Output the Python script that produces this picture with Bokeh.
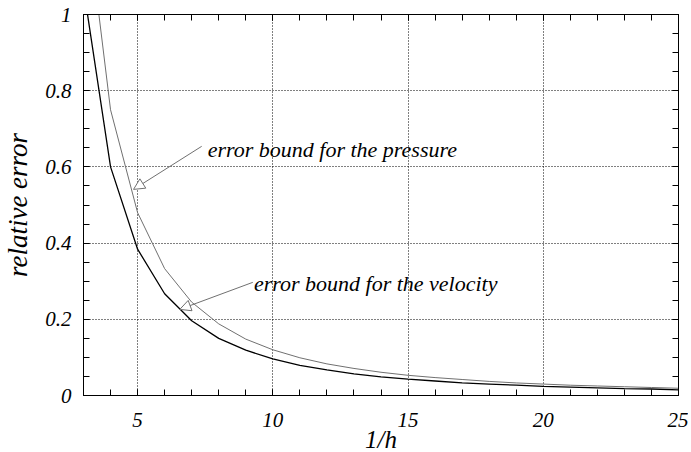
from bokeh.plotting import figure
from bokeh.models import (LinearAxis, FixedTicker, Range1d, Arrow, NormalHead, Label,
                          CustomJSTickFormatter)
from bokeh.embed import file_html
from bokeh.resources import INLINE

# ---- data ----
inv_h = [3, 4, 5, 6, 7, 8, 9, 10, 11, 12, 13, 14, 15, 16, 17, 18, 19, 20, 21, 22, 23, 24, 25]
err_velocity = [1.07, 0.60, 0.384, 0.267, 0.196, 0.150, 0.119, 0.096, 0.079, 0.067, 0.057, 0.049,
                0.043, 0.038, 0.033, 0.030, 0.027, 0.024, 0.022, 0.020, 0.018, 0.017, 0.015]
err_pressure = [1.33, 0.75, 0.48, 0.333, 0.245, 0.188, 0.148, 0.120, 0.099, 0.083, 0.071, 0.061,
                0.053, 0.047, 0.042, 0.037, 0.033, 0.030, 0.027, 0.025, 0.023, 0.021, 0.019]
x_ticks = [5, 10, 15, 20, 25]
x_minor = list(range(3, 26))
y_ticks = [0, 0.2, 0.4, 0.6, 0.8, 1]
y_minor = [round(i * 0.05, 2) for i in range(0, 21)]
x_title = "1/h"
y_title = "relative error"
label_pressure = "error bound for the pressure"
label_velocity = "error bound for the velocity"

FONT = "Liberation Serif"

p = figure(frame_width=595, frame_height=381, output_backend="svg", toolbar_location=None,
           x_range=Range1d(3, 25), y_range=Range1d(0, 1),
           min_border_left=78, min_border_right=10, min_border_top=14, min_border_bottom=0,
           x_axis_label=x_title, y_axis_label=y_title)
p.background_fill_color = "white"
p.border_fill_color = "white"
p.outline_line_color = "black"
p.outline_line_width = 1

p.line(inv_h, err_pressure, line_color="#707070", line_width=1)
p.line(inv_h, err_velocity, line_color="black", line_width=1.3)

def style_axis(ax, ticks, minor):
    ax.ticker = FixedTicker(ticks=ticks, minor_ticks=minor)
    ax.major_tick_in = 6
    ax.major_tick_out = 0
    ax.minor_tick_in = 6
    ax.minor_tick_out = 0
    ax.axis_line_color = "black"
    ax.major_tick_line_color = "black"
    ax.minor_tick_line_color = "black"
    ax.major_label_text_font = FONT
    ax.major_label_text_font_style = "italic"
    ax.major_label_text_font_size = "21px"
    ax.major_label_text_color = "black"
    ax.axis_label_text_font = FONT
    ax.axis_label_text_font_style = "italic"
    ax.axis_label_text_color = "black"

xa = p.xaxis[0]
ya = p.yaxis[0]
style_axis(xa, x_ticks, x_minor)
style_axis(ya, y_ticks, y_minor)
xa.major_label_standoff = 17
xa.axis_label_standoff = -4
xa.axis_label_text_font_size = "25px"
ya.major_label_standoff = 12
ya.axis_label_standoff = 9
ya.axis_label_text_font_size = "27px"
ya.major_label_overrides = {0: "0", 1: "1"}

blank = CustomJSTickFormatter(code="return '';")
for loc, ticks, minor in (("above", x_ticks, x_minor), ("right", y_ticks, y_minor)):
    ax = LinearAxis(formatter=blank)
    style_axis(ax, ticks, minor)
    ax.major_label_standoff = 0
    ax.axis_label_standoff = 0
    p.add_layout(ax, loc)

p.xgrid.ticker = FixedTicker(ticks=[5, 10, 15, 20])
p.ygrid.ticker = FixedTicker(ticks=[0.2, 0.4, 0.6, 0.8])
for g in (p.xgrid, p.ygrid):
    g.grid_line_color = "black"
    g.grid_line_dash = "1 2"
    g.grid_line_width = 1
    g.grid_line_alpha = 1.0

# annotations
p.add_layout(Arrow(end=NormalHead(size=11, fill_color="white", line_color="#707070", line_width=1),
                   x_start=7.37, y_start=0.654, x_end=4.85, y_end=0.541,
                   line_color="#707070", line_width=1))
p.add_layout(Arrow(end=NormalHead(size=11, fill_color="white", line_color="#707070", line_width=1),
                   x_start=9.26, y_start=0.297, x_end=6.56, y_end=0.226,
                   line_color="#707070", line_width=1))
for txt, x, y in ((label_pressure, 7.59, 0.646), (label_velocity, 9.30, 0.294)):
    p.add_layout(Label(x=x, y=y, text=txt, text_font=FONT, text_font_style="italic",
                       text_font_size="22px", text_color="black",
                       text_baseline="alphabetic", text_align="left"))

open("out.html", "w").write(file_html(p, INLINE))
